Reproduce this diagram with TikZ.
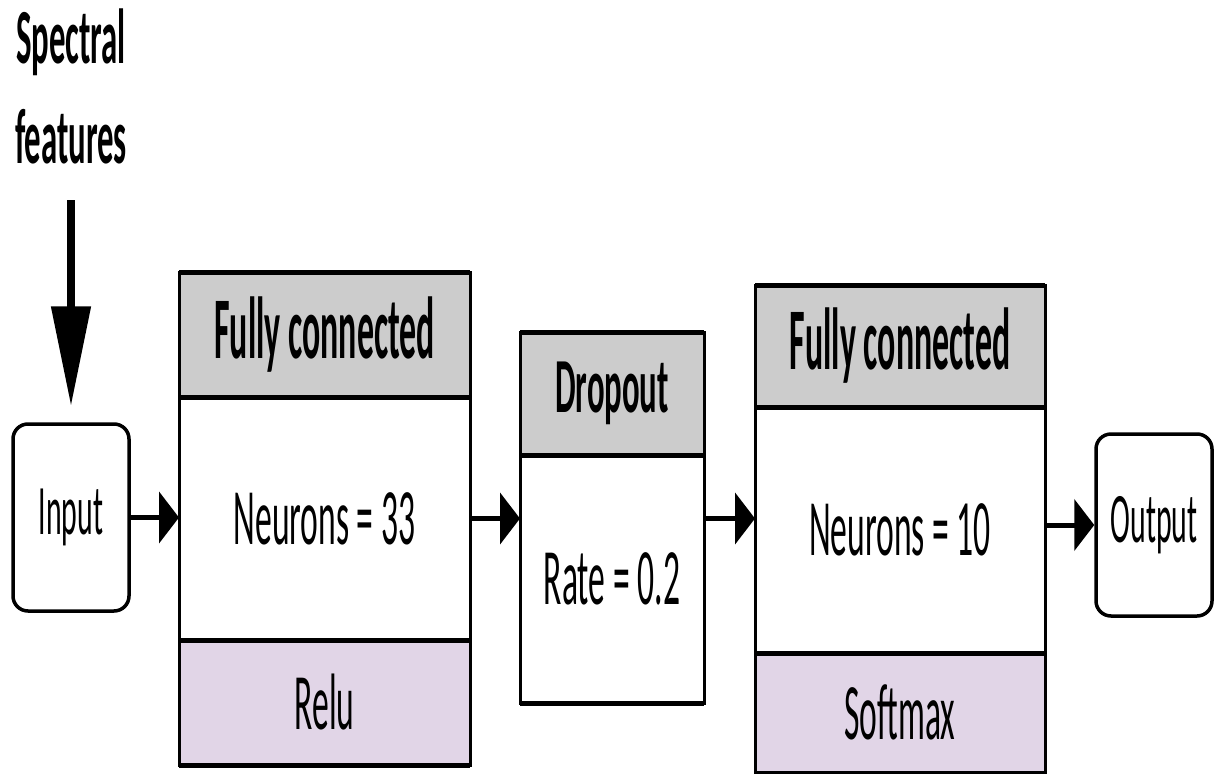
\documentclass[tikz,border=0pt]{standalone}
\usepackage{fontspec}
\setmainfont{Carlito}
\usetikzlibrary{arrows.meta}
\definecolor{hdrgray}{HTML}{CCCCCC}
\definecolor{ftrlav}{HTML}{E1D5E7}
\newcommand{\sqz}[1]{\scalebox{0.42}[1]{#1}}
\newcommand{\sqzb}[1]{\scalebox{0.385}[1]{#1}}
\begin{document}
\begin{tikzpicture}[x=1pt,y=-1pt,
  sec/.style={draw, line width=3pt, inner sep=0pt, outer sep=0pt, anchor=center},
  hline/.style={line width=5pt},
  hdrtxt/.style={font=\fontsize{88}{90}\selectfont\bfseries},
  droptxt/.style={font=\fontsize{78}{80}\selectfont\bfseries},
  bodytxt/.style={font=\fontsize{80}{90}\selectfont},
  iotxt/.style={font=\fontsize{71}{80}\selectfont},
  iobox/.style={draw, line width=3.5pt, rounded corners=15pt, inner sep=0pt, minimum width=116pt},
  conn/.style={line width=5pt, -{Triangle[length=20pt,width=51pt]}},
  bigarrow/.style={line width=8pt, -{Triangle[length=100pt,width=38pt]}}
]
\useasboundingbox (0,0) rectangle (1219,774);

% Spectral features label
\node[font=\fontsize{78}{100}\selectfont\bfseries, align=center, inner sep=0pt] (spec) at (71,86)
  {\sqz{Spectral}\\[0pt]\sqz{features}};

% Input / Output
\node[iobox, minimum height=187pt, iotxt] (in) at (71,517.5) {\sqz{Input}};
\node[iobox, minimum height=182pt, iotxt] (out) at (1154,525) {\sqz{Output}};

% FC1
\node[sec, fill=hdrgray, minimum width=291pt, minimum height=125pt, hdrtxt] (fc1h) at (324.5,334.5) {\sqzb{Fully connected}};
\node[sec, fill=white, minimum width=291pt, minimum height=243pt, bodytxt] (fc1b) at (324.5,518.5) {\sqz{Neurons = 33}};
\node[sec, fill=ftrlav, minimum width=291pt, minimum height=125pt, bodytxt] (fc1f) at (324.5,702.5) {\sqz{Relu}};
\draw[hline] (fc1h.north west) -- (fc1h.north east);
\draw[hline] (fc1h.south west) -- (fc1h.south east);
\draw[hline] (fc1b.south west) -- (fc1b.south east);
\draw[hline] (fc1f.south west) -- (fc1f.south east);

% Dropout
\node[sec, fill=hdrgray, minimum width=184pt, minimum height=123pt, droptxt] (drh) at (612,393.5) {\sqz{Dropout}};
\node[sec, fill=white, minimum width=184pt, minimum height=248pt, bodytxt] (drb) at (612,579) {\sqz{Rate = 0.2}};
\draw[hline] (drh.north west) -- (drh.north east);
\draw[hline] (drh.south west) -- (drh.south east);
\draw[hline] (drb.south west) -- (drb.south east);

% FC2
\node[sec, fill=hdrgray, minimum width=290pt, minimum height=122pt, hdrtxt] (fc2h) at (900,346) {\sqzb{Fully connected}};
\node[sec, fill=white, minimum width=290pt, minimum height=246pt, bodytxt] (fc2b) at (900,530) {\sqz{Neurons = 10}};
\node[sec, fill=ftrlav, minimum width=290pt, minimum height=119pt, bodytxt] (fc2f) at (900,712.5) {\sqz{Softmax}};
\draw[hline] (fc2h.north west) -- (fc2h.north east);
\draw[hline] (fc2h.south west) -- (fc2h.south east);
\draw[hline] (fc2b.south west) -- (fc2b.south east);

% connectors
\coordinate (specend) at (71,200);
\draw[bigarrow, shorten >=16pt] (specend) -- (in.north);
\draw[conn] (in.east) -- (in.east -| fc1b.west);
\draw[conn] (fc1b.east) -- (fc1b.east -| drb.west);
\draw[conn] (drb.east |- fc1b.east) -- (fc2b.west |- fc1b.east);
\draw[conn] (fc2b.east |- out.west) -- (out.west);
\end{tikzpicture}
\end{document}
